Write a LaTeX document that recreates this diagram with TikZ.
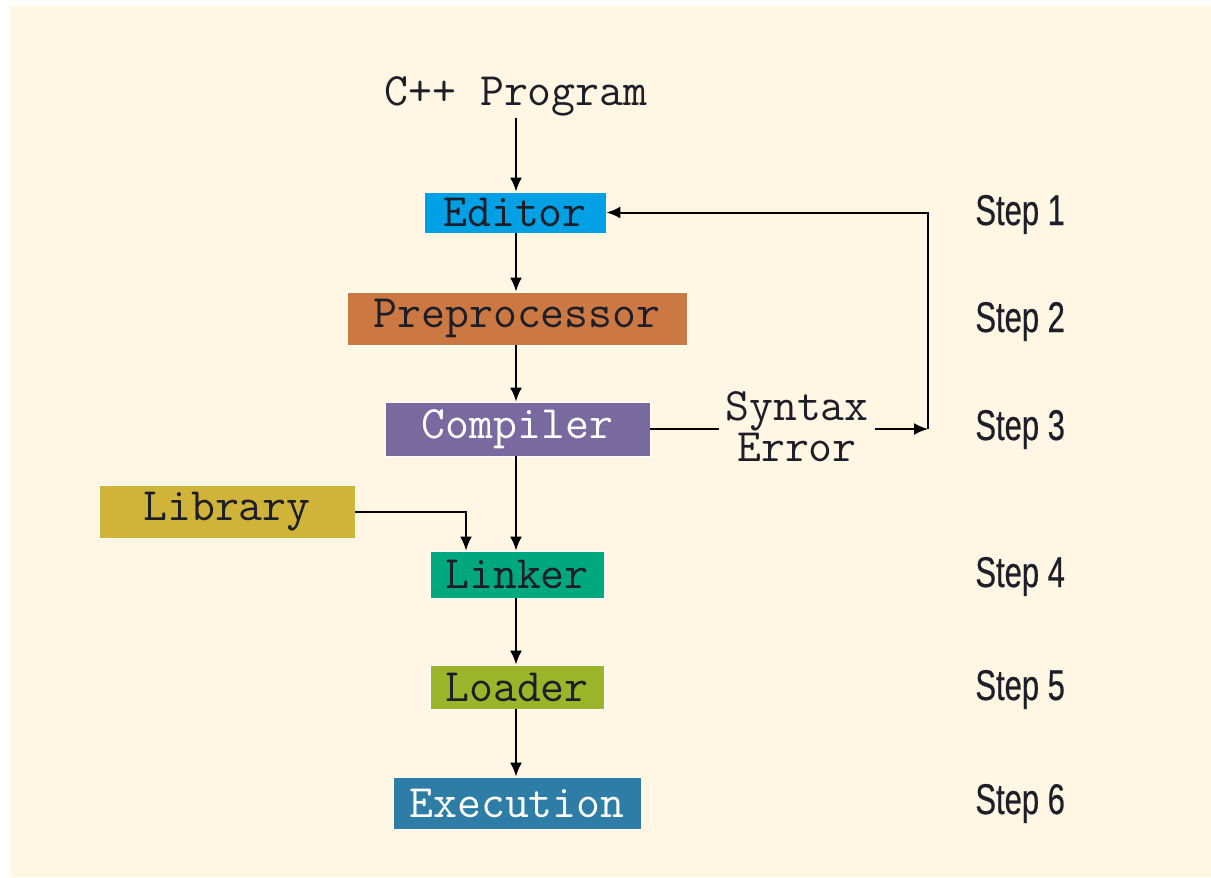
\documentclass[tikz,border=0pt]{standalone}
\usepackage{fontspec}
\usepackage{tikz}
\usetikzlibrary{arrows.meta}

\newfontfamily\stepfont[FakeStretch=0.72,FakeBold=0.5]{Liberation Sans}
\newcommand{\codefont}{\ttfamily\fontsize{23.2}{18.5}\selectfont}

\definecolor{bgcream}{HTML}{FFF6E3}
\definecolor{editorblue}{HTML}{00A0E4}
\definecolor{prepbrown}{HTML}{CC7843}
\definecolor{comppurple}{HTML}{786A9F}
\definecolor{libyellow}{HTML}{D0B43A}
\definecolor{linkgreen}{HTML}{00A97D}
\definecolor{loadolive}{HTML}{9CB42A}
\definecolor{execblue}{HTML}{2E7DA6}
\definecolor{inkdark}{HTML}{1E1E28}

\tikzset{
  box/.style={draw=white, line width=0.4pt, inner sep=0pt, font=\codefont, text=inkdark},
  arr/.style={-{Latex[length=7pt,width=6pt]}, line width=1pt},
  steplabel/.style={anchor=base west, inner sep=0pt, font=\stepfont\fontsize{21.5}{24}\selectfont, text=inkdark},
}

\begin{document}
\begin{tikzpicture}[x=0.5pt,y=-0.5pt]
            % Fond
            \useasboundingbox (0,0) rectangle (1211,878);
            \fill[white] (0,0) rectangle (1211,878);
            \fill[bgcream] (10,6) rectangle (1211,877);

            % Programme source
            \node[font=\codefont, text=inkdark, anchor=base, inner sep=1pt] (prog) at (516,105) {C++ Program};

            % Etapes
            \node[box, fill=editorblue, minimum width=91pt, minimum height=20.5pt] (editor) at (515,212.5) {Editor};
            \node[box, fill=prepbrown, minimum width=170pt, minimum height=26.5pt] (prep) at (517,318.5) {Preprocessor};
            \node[box, fill=comppurple, text=white, minimum width=132.5pt, minimum height=27pt] (comp) at (517.5,429) {Compiler};
            \node[box, fill=libyellow, minimum width=128pt, minimum height=26.5pt] (lib) at (227,511.5) {Library};
            \node[box, fill=linkgreen, minimum width=87pt, minimum height=23.5pt] (link) at (517,574.5) {Linker};
            \node[box, fill=loadolive, minimum width=87pt, minimum height=22pt] (load) at (517,687) {Loader};
            \node[box, fill=execblue, text=white, minimum width=124pt, minimum height=26pt] (exec) at (517,803) {Execution};

            % Erreur de syntaxe
            \node[font=\codefont, text=inkdark, align=center, inner xsep=3pt] (err) at (797,427) {Syntax\\Error};
            \coordinate (back) at (928,429);

            % Fleches
            \draw[arr] (516,118) -- (editor.north -| 516,0);
            \draw[arr] (editor.south -| 516,0) -- (prep.north -| 516,0);
            \draw[arr] (prep.south -| 516,0) -- (comp.north -| 516,0);
            \draw[arr] (comp.south -| 516,0) -- (link.north -| 516,0);
            \draw[arr] (link.south -| 516,0) -- (load.north -| 516,0);
            \draw[arr] (load.south -| 516,0) -- (exec.north -| 516,0);
            \draw[arr] (lib.east) -| ([xshift=-25.5pt]link.north);
            \draw[line width=1pt] (comp.east) -- (err.west |- back);
            \draw[arr] (err.east |- back) -- (back);
            \draw[arr] (back) |- (editor.east);

            % Numeros
            \node[steplabel] (s1) at (975,225) {Step 1};
            \node[steplabel] (s2) at (975,332) {Step 2};
            \node[steplabel] (s3) at (975,440) {Step 3};
            \node[steplabel] (s4) at (975,587) {Step 4};
            \node[steplabel] (s5) at (975,700) {Step 5};
            \node[steplabel] (s6) at (975,814) {Step 6};
        \end{tikzpicture}
\end{document}
